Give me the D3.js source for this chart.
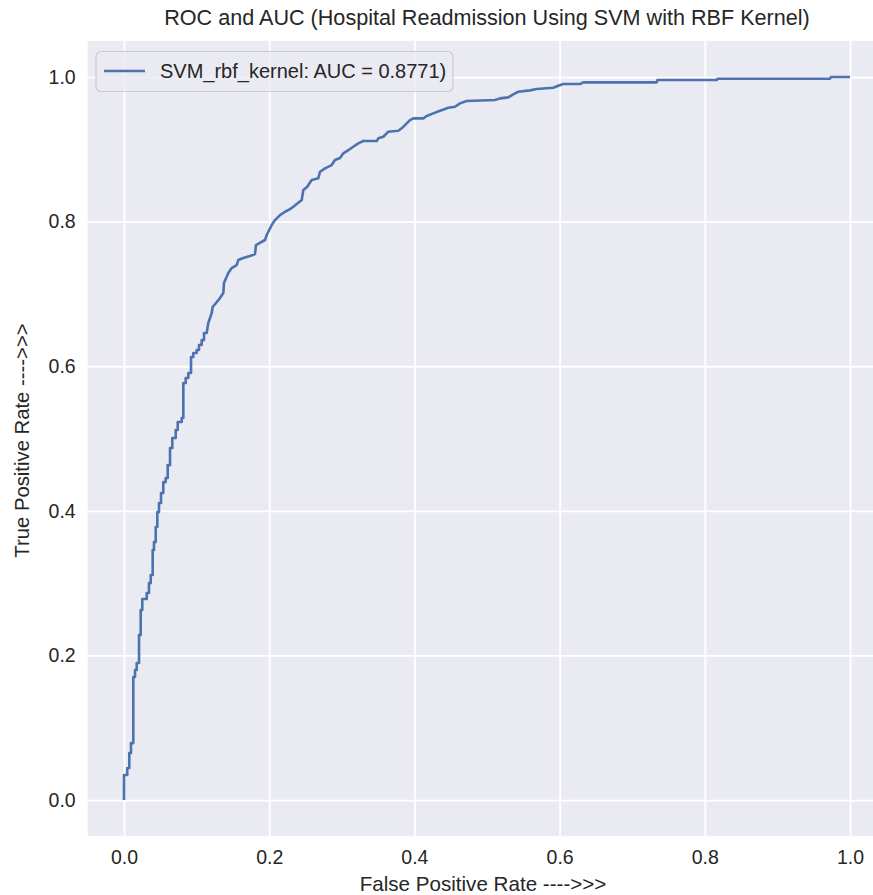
<!DOCTYPE html>
<html>
<head>
<meta charset="utf-8">
<script src="https://cdn.jsdelivr.net/npm/d3@7"></script>
<style>
  html, body { margin: 0; padding: 0; background: #ffffff; }
  svg { display: block; font-family: "Liberation Sans", Arial, sans-serif; }
</style>
</head>
<body>
<svg id="chart" width="873" height="895"></svg>
<script>
// ROC curve of the RBF-kernel SVM: false positive rate vs true positive rate
const fpr = [
  0, 0, 0.0045, 0.0045, 0.0073, 0.0073, 0.0096, 0.0096, 0.0128, 0.0128,
  0.0152, 0.0152, 0.0175, 0.0175, 0.0207, 0.0207, 0.0230, 0.0230, 0.0252, 0.0252,
  0.0313, 0.0313, 0.0344, 0.0344, 0.0368, 0.0368, 0.0395, 0.0395, 0.0413, 0.0413,
  0.0437, 0.0437, 0.0459, 0.0459, 0.0482, 0.0482, 0.0510, 0.0510, 0.0541, 0.0541,
  0.0574, 0.0574, 0.0602, 0.0602, 0.0634, 0.0634, 0.0665, 0.0665, 0.0712, 0.0712,
  0.0740, 0.0740, 0.0795, 0.0795, 0.0817, 0.0817, 0.0850, 0.0850, 0.0886, 0.0886,
  0.0923, 0.0923, 0.0955, 0.0955, 0.1001, 0.1001, 0.1033, 0.1033, 0.1070, 0.1070,
  0.1102, 0.1102, 0.1139,
  0.1161, 0.1185, 0.1208, 0.1222, 0.1267, 0.1322, 0.1368, 0.1377, 0.1437, 0.1483,
  0.1552, 0.1574, 0.1643, 0.1736, 0.1804, 0.1818, 0.1873, 0.1942, 0.1966, 0.1988,
  0.2034, 0.2080, 0.2149, 0.2218, 0.2287, 0.2332, 0.2448, 0.2470, 0.2521, 0.2585,
  0.2676, 0.2700, 0.2769, 0.2861, 0.2906, 0.2975, 0.3021, 0.3090, 0.3158, 0.3227,
  0.3296, 0.3481, 0.3503, 0.3572, 0.3618, 0.3640, 0.3778, 0.3825, 0.3894, 0.3939,
  0.3985, 0.4123, 0.4169, 0.4260, 0.4353, 0.4467, 0.4559, 0.4628, 0.4720, 0.5110,
  0.5179, 0.5293, 0.5362, 0.5431, 0.5592, 0.5685, 0.5913, 0.5982, 0.6051, 0.6281,
  0.6326, 0.7337, 0.7348, 0.8164, 0.8175, 0.9725, 0.9738, 1.0
];
const tpr = [
  0, 0.0346, 0.0346, 0.0443, 0.0443, 0.0650, 0.0650, 0.0788, 0.0788, 0.1701,
  0.1701, 0.1798, 0.1798, 0.1895, 0.1895, 0.2282, 0.2282, 0.2628, 0.2628, 0.2780,
  0.2780, 0.2863, 0.2863, 0.3001, 0.3001, 0.3112, 0.3112, 0.3458, 0.3458, 0.3568,
  0.3568, 0.3776, 0.3776, 0.3983, 0.3983, 0.4108, 0.4108, 0.4246, 0.4246, 0.4398,
  0.4398, 0.4454, 0.4454, 0.4633, 0.4633, 0.4869, 0.4869, 0.5007, 0.5007, 0.5118,
  0.5118, 0.5228, 0.5228, 0.5284, 0.5284, 0.5768, 0.5768, 0.5837, 0.5837, 0.5906,
  0.5906, 0.6127, 0.6127, 0.6183, 0.6183, 0.6224, 0.6224, 0.6293, 0.6293, 0.6362,
  0.6362, 0.6459, 0.6459,
  0.6598, 0.6667, 0.6736, 0.6823, 0.6874, 0.6943, 0.7012, 0.7151, 0.7289, 0.7358,
  0.7400, 0.7469, 0.7497, 0.7524, 0.7552, 0.7676, 0.7708, 0.7746, 0.7815, 0.7860,
  0.7953, 0.8022, 0.8091, 0.8137, 0.8174, 0.8206, 0.8299, 0.8437, 0.8479, 0.8575,
  0.8599, 0.8690, 0.8737, 0.8783, 0.8852, 0.8880, 0.8945, 0.8990, 0.9036, 0.9083,
  0.9115, 0.9115, 0.9152, 0.9174, 0.9221, 0.9244, 0.9257, 0.9291, 0.9359, 0.9405,
  0.9429, 0.9429, 0.9461, 0.9498, 0.9534, 0.9575, 0.9589, 0.9636, 0.9668, 0.9682,
  0.9705, 0.9719, 0.9761, 0.9797, 0.9816, 0.9834, 0.9852, 0.9880, 0.9903, 0.9903,
  0.9927, 0.9927, 0.9959, 0.9959, 0.9977, 0.9977, 1.0, 1.0
];
const tickValues = [0.0, 0.2, 0.4, 0.6, 0.8, 1.0];
const seriesName = "SVM_rbf_kernel: AUC = 0.8771)";
const titleText = "ROC and AUC (Hospital Readmission Using SVM with RBF Kernel)";
const xLabelText = "False Positive Rate ---->>>";
const yLabelText = "True Positive Rate ---->>>";

const points = fpr.map((f, i) => ({ x: f, y: tpr[i] }));

const svg = d3.select("#chart");
const textColor = "#262626";
const lineColor = "#4C72B0";

// axes box (data range padded by 5% on each side)
const plotLeft = 87.7, plotRight = 886.3, plotTop = 40.9, plotBottom = 836.2;
const x = d3.scaleLinear().domain([-0.05, 1.05]).range([plotLeft, plotRight]);
const y = d3.scaleLinear().domain([-0.05, 1.05]).range([plotBottom, plotTop]);

svg.append("rect")
  .attr("x", plotLeft).attr("y", plotTop)
  .attr("width", plotRight - plotLeft).attr("height", plotBottom - plotTop)
  .attr("fill", "#EAEAF2");

// white grid via axes with full-length ticks
const gx = svg.append("g")
  .attr("transform", `translate(0,${plotBottom})`)
  .call(d3.axisBottom(x).tickValues(tickValues).tickSize(-(plotBottom - plotTop)).tickPadding(14)
    .tickFormat(d3.format(".1f")));
const gy = svg.append("g")
  .attr("transform", `translate(${plotLeft},0)`)
  .call(d3.axisLeft(y).tickValues(tickValues).tickSize(-(plotRight - plotLeft)).tickPadding(12)
    .tickFormat(d3.format(".1f")));

[gx, gy].forEach(g => {
  g.select(".domain").remove();
  g.selectAll(".tick line").attr("stroke", "#ffffff").attr("stroke-width", 1.8);
  g.selectAll(".tick text")
    .attr("fill", textColor)
    .style("font-size", "19.5px")
    .style("font-family", "'Liberation Sans', Arial, sans-serif");
});
gx.selectAll(".tick text").attr("dy", "0.71em");

// ROC curve
const line = d3.line().x(d => x(d.x)).y(d => y(d.y)).curve(d3.curveLinear);
svg.append("path")
  .datum(points)
  .attr("d", line)
  .attr("fill", "none")
  .attr("stroke", lineColor)
  .attr("stroke-width", 2.6)
  .attr("stroke-linejoin", "round")
  .attr("stroke-linecap", "butt");

// legend
const legend = svg.append("g");
legend.append("rect")
  .attr("x", 96).attr("y", 51.5)
  .attr("width", 357).attr("height", 40)
  .attr("rx", 5).attr("ry", 5)
  .attr("fill", "#EAEAF2").attr("fill-opacity", 0.8)
  .attr("stroke", "#CCCCCC").attr("stroke-width", 1.2);
legend.append("line")
  .attr("x1", 104).attr("x2", 145)
  .attr("y1", 71).attr("y2", 71)
  .attr("stroke", lineColor).attr("stroke-width", 2.6);
legend.append("text")
  .attr("x", 160).attr("y", 71)
  .attr("dy", "0.35em")
  .attr("fill", textColor)
  .style("font-size", "20px")
  .text(seriesName);

// title and axis labels
svg.append("text")
  .attr("x", (plotLeft + plotRight) / 2).attr("y", 25)
  .attr("text-anchor", "middle")
  .attr("fill", textColor)
  .style("font-size", "21.6px")
  .text(titleText);

svg.append("text")
  .attr("x", 483).attr("y", 891)
  .attr("text-anchor", "middle")
  .attr("fill", textColor)
  .style("font-size", "20.6px")
  .text(xLabelText);

svg.append("text")
  .attr("transform", `translate(29,${(plotTop + plotBottom) / 2 + 2}) rotate(-90)`)
  .attr("text-anchor", "middle")
  .attr("fill", textColor)
  .style("font-size", "20.3px")
  .text(yLabelText);
</script>
</body>
</html>
